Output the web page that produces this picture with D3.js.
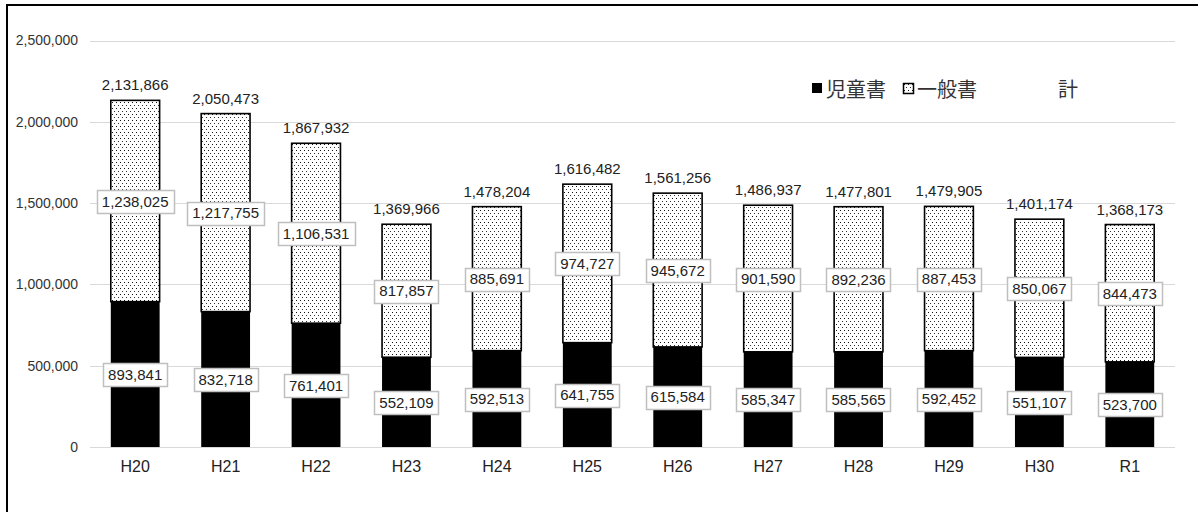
<!DOCTYPE html>
<html><head><meta charset="utf-8">
<script src="https://cdn.jsdelivr.net/npm/d3@7"></script>
<style>
html,body{margin:0;padding:0;background:#fff;}
svg{display:block;}
</style></head>
<body>
<svg id="chart" width="1198" height="512"></svg>
<script>
const categories = ["H20","H21","H22","H23","H24","H25","H26","H27","H28","H29","H30","R1"];
const childBooks = [893841,832718,761401,552109,592513,641755,615584,585347,585565,592452,551107,523700];
const generalBooks = [1238025,1217755,1106531,817857,885691,974727,945672,901590,892236,887453,850067,844473];
const totals = [2131866,2050473,1867932,1369966,1478204,1616482,1561256,1486937,1477801,1479905,1401174,1368173];
const yTicks = [0,500000,1000000,1500000,2000000,2500000];
const legendLabels = ["児童書","一般書","計"];

const svg = d3.select("#chart");
const W = 1198, H = 512;
const font = "'Liberation Sans', Arial, sans-serif";
const X0 = 90, X1 = 1175;

const x = d3.scaleBand().domain(categories).range([X0, X1]).paddingInner(0.46).paddingOuter(0.23);
const y = d3.scaleLinear().domain([0, 2500000]).range([447, 40.5]);
const fmt = d3.format(",");

// pattern
const defs = svg.append("defs");
const pat = defs.append("pattern").attr("id","dots").attr("patternUnits","userSpaceOnUse")
  .attr("width",4).attr("height",6);
pat.append("rect").attr("width",4).attr("height",6).attr("fill","#fff");
pat.append("rect").attr("x",0).attr("y",0).attr("width",1).attr("height",1).attr("fill","#111");
pat.append("rect").attr("x",2).attr("y",3).attr("width",1).attr("height",1).attr("fill","#333");

// frame
svg.append("line").attr("x1",6).attr("x2",W).attr("y1",5).attr("y2",5).attr("stroke","#000").attr("stroke-width",2);
svg.append("line").attr("x1",7).attr("x2",7).attr("y1",4).attr("y2",H).attr("stroke","#000").attr("stroke-width",2);

// gridlines + y axis
const yAxis = d3.axisLeft(y).tickValues(yTicks).tickFormat(fmt).tickSize(-(X1-X0)).tickPadding(12);
const gy = svg.append("g").attr("transform",`translate(${X0},0)`).call(yAxis);
gy.select(".domain").remove();
gy.selectAll(".tick line").attr("stroke","#d9d9d9").attr("stroke-width",1).attr("shape-rendering","crispEdges");
gy.selectAll(".tick text").attr("font-family",font).attr("font-size",14).attr("fill","#333");

// x axis labels
const xAxis = d3.axisBottom(x).tickSize(0).tickPadding(14);
const gx = svg.append("g").attr("transform","translate(0,447)").call(xAxis);
gx.select(".domain").remove();
gx.selectAll(".tick text").attr("font-family",font).attr("font-size",16).attr("fill","#222");

// bars
const bw = x.bandwidth();
svg.append("g").selectAll("rect").data(categories).join("rect")
  .attr("x", d => x(d)).attr("width", bw)
  .attr("y", (d,i) => y(childBooks[i])).attr("height", (d,i) => y(0) - y(childBooks[i]))
  .attr("fill","#000");
svg.append("g").selectAll("rect").data(categories).join("rect")
  .attr("x", d => x(d)).attr("width", bw)
  .attr("y", (d,i) => y(childBooks[i] + generalBooks[i])).attr("height", (d,i) => y(childBooks[i]) - y(childBooks[i] + generalBooks[i]))
  .attr("fill","url(#dots)").attr("stroke","#000").attr("stroke-width",1.6);

// data labels with boxes
function boxLabel(g, cx, cy, txt) {
  const grp = g.append("g");
  const t = grp.append("text").attr("x",cx).attr("y",cy).attr("text-anchor","middle").attr("dominant-baseline","central")
    .attr("font-family",font).attr("font-size",15).attr("fill","#222").text(txt);
  const bb = t.node().getBBox();
  grp.insert("rect","text").attr("x", Math.round(cx - bb.width/2 - 5) + 0.5).attr("y", Math.round(cy - 11) + 0.5)
    .attr("width", Math.round(bb.width + 10)).attr("height", 23)
    .attr("fill","#fff").attr("stroke","#bfbfbf").attr("stroke-width",1.5);
}
const gl = svg.append("g");
categories.forEach((c,i) => {
  const cx = x(c) + bw/2;
  boxLabel(gl, cx, y(childBooks[i]/2), fmt(childBooks[i]));
  boxLabel(gl, cx, y(childBooks[i] + generalBooks[i]/2), fmt(generalBooks[i]));
});

// totals
svg.append("g").selectAll("text").data(categories).join("text")
  .attr("x", d => x(d) + bw/2).attr("y", (d,i) => y(totals[i]) - 10)
  .attr("text-anchor","middle").attr("font-family",font).attr("font-size",15).attr("fill","#222")
  .text((d,i) => fmt(totals[i]));

// legend
const lg = svg.append("g").attr("font-family","'Noto Sans CJK JP', sans-serif").attr("font-size",20).attr("fill","#333");
lg.append("rect").attr("x",812).attr("y",83).attr("width",10).attr("height",10).attr("fill","#000");
lg.append("text").attr("x",826).attr("y",88).attr("dominant-baseline","central").text(legendLabels[0]);
lg.append("rect").attr("x",903.5).attr("y",83.5).attr("width",10).attr("height",10).attr("fill","url(#dots)").attr("stroke","#000").attr("stroke-width",1.5);
lg.append("text").attr("x",917).attr("y",88).attr("dominant-baseline","central").text(legendLabels[1]);
lg.append("text").attr("x",1058).attr("y",88).attr("dominant-baseline","central").text(legendLabels[2]);
</script>
</body></html>
